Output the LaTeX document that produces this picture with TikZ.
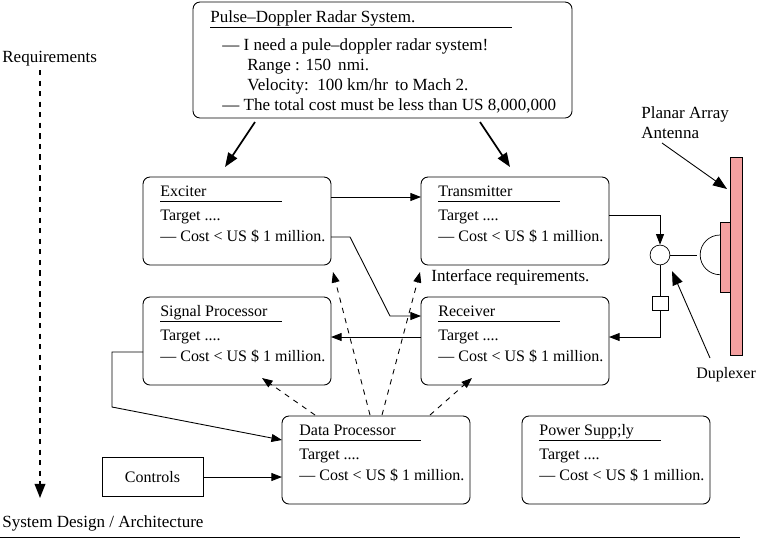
\documentclass[tikz,border=0pt]{standalone}
\usepackage{fontspec}
\setmainfont{Liberation Serif}
\usetikzlibrary{arrows.meta}
\definecolor{pink}{HTML}{F4A0A0}
\begin{document}
\begin{tikzpicture}[x=0.02cm,y=-0.02cm,font=\fontsize{9.7}{11}\selectfont,
  box/.style={draw,rounded corners=4pt,line width=0.5pt},
  t/.style={anchor=base west,inner sep=0},
  bt/.style={t,font=\fontsize{9.1}{11}\selectfont},
  arr/.style={-{Triangle[length=6pt,width=4.5pt]},line width=0.5pt},
  darr/.style={arr,dashed},
  big/.style={-{Triangle[length=8pt,width=6pt]},line width=1pt}]
\useasboundingbox (0,0) rectangle (759,538);
% boxes
\draw[box] (193,2) rectangle (572,118);
\node[t] (tt) at (210,22) {Pulse--Doppler Radar System.};
\draw (210,27) -- (512,27);
\node[t] (t1) at (222,50) {--- I need a pule--doppler radar system!};
\node[t] (t2) at (247,70) {Range : 150\, nmi.};
\node[t] (t3) at (247,90) {Velocity:\, 100 km/hr\, to Mach 2.};
\node[t] (t4) at (222,110) {--- The total cost must be less than US 8,000,000};
\foreach \n/\x/\y/\ti in {ex/143/177/Exciter,tr/421/177/Transmitter,sp/143/297/Signal Processor,rc/421/297/Receiver,dp/282/416/Data Processor,ps/522/416/Power Supp;ly}{
  \draw[box] (\x,\y) rectangle ++(188,88);
  \node[bt] (\n t) at (\x+17,\y+19) {\ti};
  \draw (\x+17,\y+24) -- (\x+139,\y+24);
  \node[bt] (\n a) at (\x+17,\y+43) {Target ....};
  \node[bt] (\n b) at (\x+17,\y+64) {--- Cost < US \$ 1 million.};
}
\draw[line width=0.5pt] (102,457) rectangle (203,496);
\node[font=\fontsize{9.1}{11}\selectfont] (ct) at (152.5,477) {Controls};
\node[t] (req) at (2,62) {Requirements};
\node[t] (sd) at (2,527) {System Design / Architecture};
\draw (0,537) -- (740,537);
\node[t] (ia) at (431,281) {Interface requirements.};
\draw[big,dashed] (40,70) -- (40,498);
% big arrows
\draw[big] (255,122) -- (225,167);
\draw[big] (480,122) -- (510,167);
% connectors
\draw[arr] (331,197) -- (421,197);
\draw[arr] (331,237) -- (350,237) -- (390,316) -- (421,316);
\draw[arr] (421,337) -- (331,337);
\draw[arr] (143,352) -- (112,352) -- (112,407) -- (282,440);
\draw[arr] (203,477) -- (282,477);
\draw[darr] (315,415) -- (262,378);
\draw[darr] (370,415) -- (333,272);
\draw[darr] (382,415) -- (420,272);
\draw[darr] (430,415) -- (472,378);
% duplexer & antenna
\node[draw,circle,minimum size=11.3pt,inner sep=0] (dup) at (660,255) {};
\draw[arr] (609,215) -- (660,215) -- (dup.north);
\node[draw,minimum width=9pt,minimum height=8pt,inner sep=0] (sw) at (660,303) {};
\draw (dup.south) -- (sw.north);
\draw[arr] (sw.south) -- (660,337) -- (609,337);
\fill[pink,draw=black] (730,157) rectangle (742,355);
\fill[pink,draw=black] (720,222) rectangle (730,292);
\draw (dup.east) -- (697,255);
\draw (720,235) arc[start angle=90,end angle=270,radius=11.3pt];
\node[t] (pa) at (641,118) {Planar Array};
\node[t] (pa2) at (641,138) {Antenna};
\draw[big,line width=0.5pt] (662,143) -- (727,189);
\node[t,font=\fontsize{9.1}{11}\selectfont] (dx) at (696,378) {Duplexer};
\draw[big,line width=0.5pt] (710,358) -- (672,271);
\end{tikzpicture}
\end{document}
